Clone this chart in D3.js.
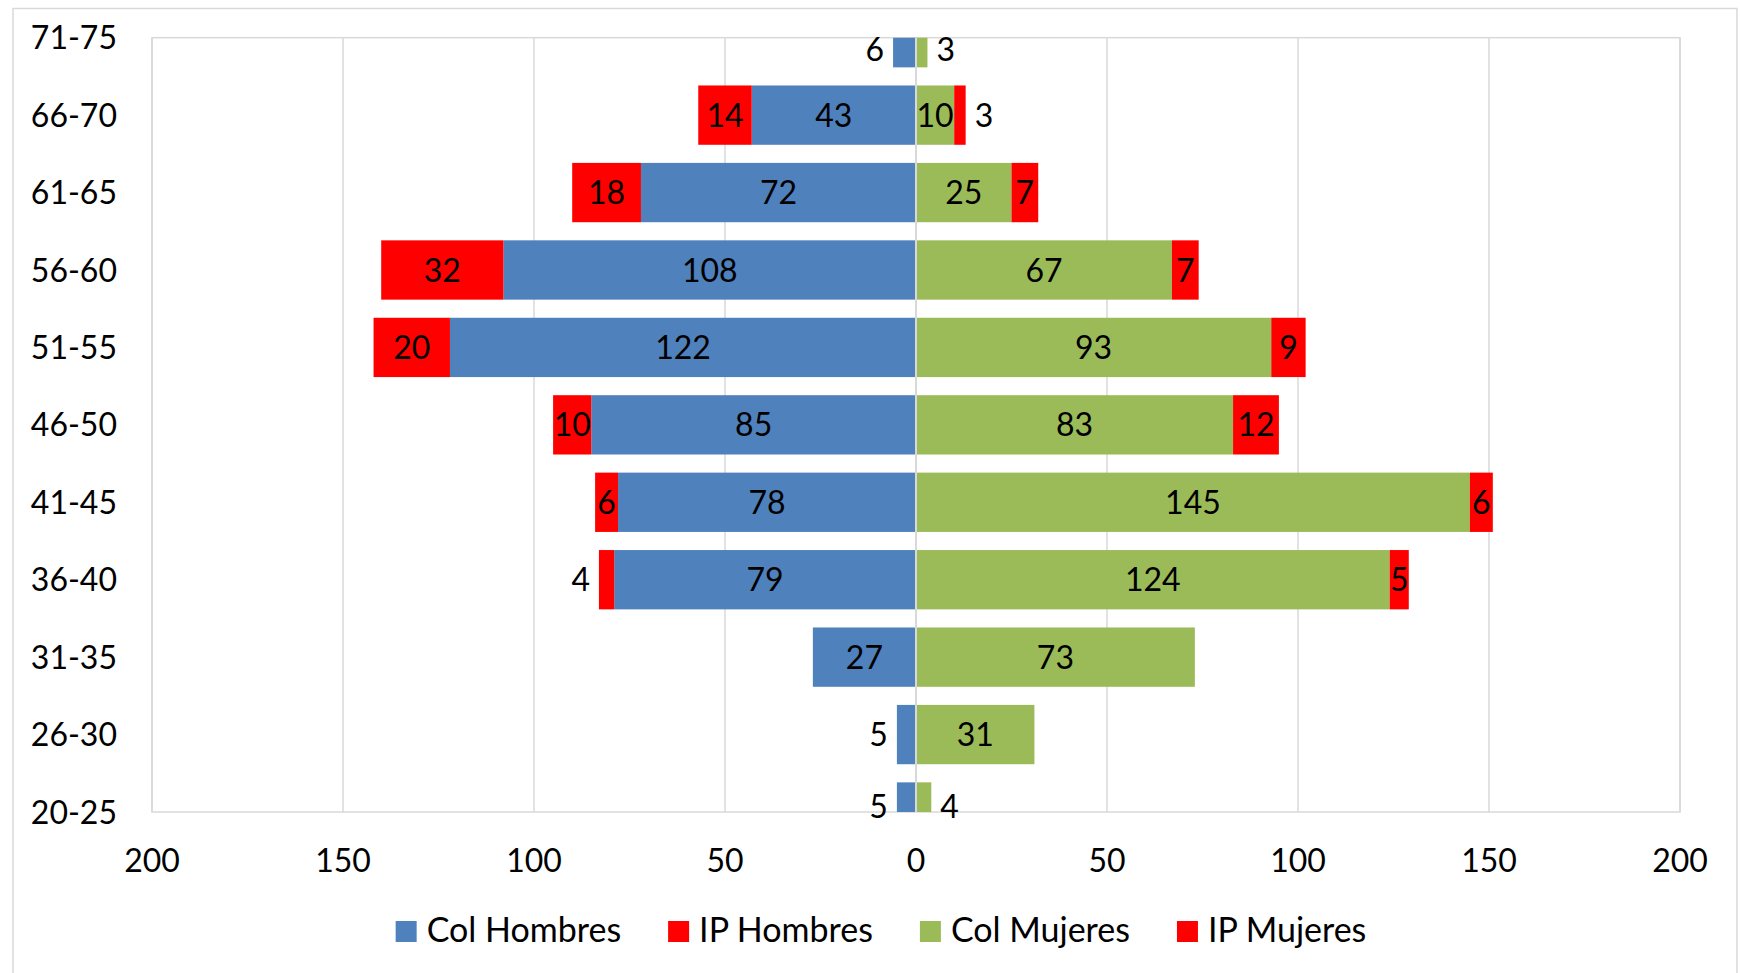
<!DOCTYPE html>
<html>
<head>
<meta charset="utf-8">
<script src="https://cdn.jsdelivr.net/npm/d3@7"></script>
<style>
  html, body { margin: 0; padding: 0; background: #fff; }
  svg { display: block; }
  text { font-family: Lato, "Open Sans", sans-serif; fill: #000; }
</style>
</head>
<body>
<svg id="chart" width="1740" height="973"></svg>
<script>
const ageGroups  = ["71-75","66-70","61-65","56-60","51-55","46-50","41-45","36-40","31-35","26-30","20-25"];
const colHombres = [6, 43, 72, 108, 122, 85, 78, 79, 27, 5, 5];
const ipHombres  = [0, 14, 18, 32, 20, 10, 6, 4, 0, 0, 0];
const colMujeres = [3, 10, 25, 67, 93, 83, 145, 124, 73, 31, 4];
const ipMujeres  = [0, 3, 7, 7, 9, 12, 6, 5, 0, 0, 0];
const xTicks     = [-200, -150, -100, -50, 0, 50, 100, 150, 200];
const seriesNames = ["Col Hombres", "IP Hombres", "Col Mujeres", "IP Mujeres"];
const seriesColors = ["#4F81BD", "#FF0000", "#9BBB59", "#FF0000"];

const W = 1740, H = 973;
const plot = { left: 152, right: 1680, top: 37.7, bottom: 812 };
const FONT = 32;
const LEGEND_FONT = 34;
const grid = "#d9d9d9";

const svg = d3.select("#chart");
svg.append("rect").attr("width", W).attr("height", H).attr("fill", "#fff");
// outer chart border
svg.append("rect").attr("x", 13).attr("y", 8.5).attr("width", 1724).attr("height", 1000)
  .attr("fill", "none").attr("stroke", grid).attr("stroke-width", 1.5);

const x = d3.scaleLinear().domain([-200, 200]).range([plot.left, plot.right]);
const y = d3.scalePoint().domain(ageGroups).range([plot.top, plot.bottom]);
const barH = y.step() * 0.766;

svg.append("defs").append("clipPath").attr("id", "plotClip")
  .append("rect").attr("x", plot.left).attr("y", plot.top)
  .attr("width", plot.right - plot.left).attr("height", plot.bottom - plot.top);

// gridlines
svg.append("g").selectAll("line").data(xTicks).join("line")
  .attr("x1", d => x(d)).attr("x2", d => x(d))
  .attr("y1", plot.top).attr("y2", plot.bottom)
  .attr("stroke", grid).attr("stroke-width", 1.5);
svg.append("rect").attr("x", plot.left).attr("y", plot.top)
  .attr("width", plot.right - plot.left).attr("height", plot.bottom - plot.top)
  .attr("fill", "none").attr("stroke", grid).attr("stroke-width", 1.5);

// build segments
const segs = [];
ageGroups.forEach((g, i) => {
  const hasIpH = ipHombres[i] > 0, hasIpM = ipMujeres[i] > 0;
  segs.push({ g, s: 0, x0: 0, x1: -colHombres[i], v: colHombres[i], side: -1, outer: !hasIpH });
  if (hasIpH) segs.push({ g, s: 1, x0: -colHombres[i], x1: -colHombres[i] - ipHombres[i], v: ipHombres[i], side: -1, outer: true });
  segs.push({ g, s: 2, x0: 0, x1: colMujeres[i], v: colMujeres[i], side: 1, outer: !hasIpM });
  if (hasIpM) segs.push({ g, s: 3, x0: colMujeres[i], x1: colMujeres[i] + ipMujeres[i], v: ipMujeres[i], side: 1, outer: true });
});

const bars = svg.append("g").attr("clip-path", "url(#plotClip)");
bars.selectAll("rect").data(segs).join("rect")
  .attr("x", d => Math.min(x(d.x0), x(d.x1)))
  .attr("width", d => Math.abs(x(d.x1) - x(d.x0)))
  .attr("y", d => y(d.g) - barH / 2)
  .attr("height", barH)
  .attr("fill", d => seriesColors[d.s]);

// zero axis line on top
svg.append("line").attr("x1", x(0)).attr("x2", x(0))
  .attr("y1", plot.top).attr("y2", plot.bottom)
  .attr("stroke", grid).attr("stroke-width", 2);

// data labels
function isOutside(d) {
  if (!d.outer) return false;
  const onlySeg = (d.s === 0 || d.s === 2);
  return d.v <= 4 || (onlySeg && d.v <= 6);
}
function labelY(d) {
  const c = y(d.g);
  return Math.max(plot.top + 12, Math.min(plot.bottom - 6, c));
}
svg.append("g").selectAll("text").data(segs).join("text")
  .attr("font-size", FONT)
  .attr("dy", "0.36em")
  .attr("y", d => labelY(d))
  .attr("x", d => {
    if (isOutside(d)) return d.side < 0 ? x(d.x1) - 9 : x(d.x1) + 9;
    return (x(d.x0) + x(d.x1)) / 2;
  })
  .attr("text-anchor", d => isOutside(d) ? (d.side < 0 ? "end" : "start") : "middle")
  .text(d => d.v);

// category axis labels
svg.append("g").selectAll("text").data(ageGroups).join("text")
  .attr("font-size", FONT).attr("x", 117).attr("y", d => y(d)).attr("dy", "0.36em")
  .attr("text-anchor", "end").text(d => d);

// x axis labels
svg.append("g").selectAll("text").data(xTicks).join("text")
  .attr("font-size", FONT).attr("x", d => x(d)).attr("y", 872)
  .attr("text-anchor", "middle").text(d => Math.abs(d));

// legend
const legend = svg.append("g");
const items = legend.selectAll("g").data(seriesNames).join("g");
items.append("rect").attr("width", 21).attr("height", 21).attr("y", 921)
  .attr("fill", (d, i) => seriesColors[i]);
items.append("text").attr("font-size", LEGEND_FONT).attr("y", 942).text(d => d);
let widths = [];
items.select("text").each(function () { widths.push(this.getComputedTextLength()); });
const sq = 21, gapST = 10, gapItems = 47;
const total = d3.sum(widths) + seriesNames.length * (sq + gapST) + gapItems * (seriesNames.length - 1);
let cx = 881 - total / 2;
items.each(function (d, i) {
  const g = d3.select(this);
  g.select("rect").attr("x", cx);
  g.select("text").attr("x", cx + sq + gapST);
  cx += sq + gapST + widths[i] + gapItems;
});
</script>
</body>
</html>
